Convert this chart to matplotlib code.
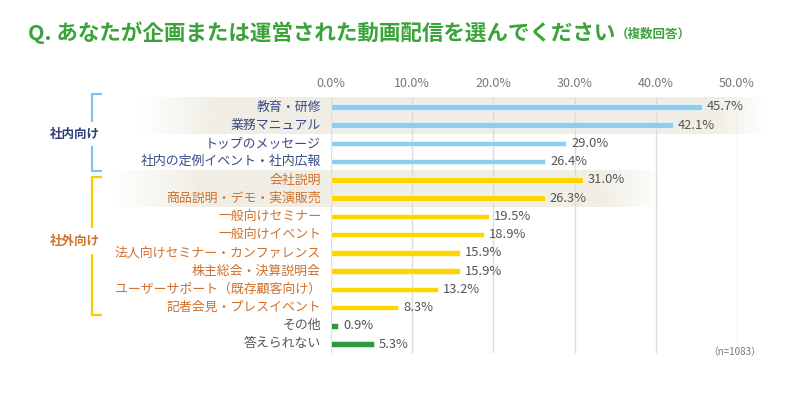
import numpy as np
import matplotlib.pyplot as plt
from matplotlib.colors import to_rgb

plt.rcParams['font.family'] = ['Noto Sans CJK JP', 'DejaVu Sans']

# data
labels = ['教育・研修', '業務マニュアル', 'トップのメッセージ', '社内の定例イベント・社内広報',
          '会社説明', '商品説明・デモ・実演販売', '一般向けセミナー', '一般向けイベント',
          '法人向けセミナー・カンファレンス', '株主総会・決算説明会', 'ユーザーサポート（既存顧客向け）',
          '記者会見・プレスイベント', 'その他', '答えられない']
values = [45.7, 42.1, 29.0, 26.4, 31.0, 26.3, 19.5, 18.9, 15.9, 15.9, 13.2, 8.3, 0.9, 5.3]
groups = ['in'] * 4 + ['out'] * 8 + ['etc'] * 2
ticks = [0, 10, 20, 30, 40, 50]

bar_col = {'in': '#8ccdf0', 'out': '#ffd400', 'etc': '#2f9a3b'}
txt_col = {'in': '#3b4a86', 'out': '#d0712c', 'etc': '#555555'}

W, H = 800, 394
fig = plt.figure(figsize=(8, 3.94), dpi=100)

# axes placed so that 0%..50% spans px 331..737, rows at y 107..344
y0, y1 = 107, 344
step = (y1 - y0) / 13
top = y0 - step / 2
bot = y1 + step / 2
ax = fig.add_axes([331 / W, 1 - bot / H, (737 - 331) / W, (bot - top) / H])
ax.patch.set_alpha(0)
ax.set_xlim(0, 50)
ax.set_ylim(13.5, -0.5)
for s in ax.spines.values():
    s.set_visible(False)
ax.set_xticks([])
ax.set_yticks([])

# highlighted bands with gradient (figure-level axes)
bg = fig.add_axes([0, 0, 1, 1], zorder=-1)
bg.axis('off')
xs = np.arange(W)
base = np.array(to_rgb('#f0eee5'))
bands = [((0, 1), [140, 215, 715, 765]), ((4, 5), [110, 200, 600, 660])]
for (r0, r1), stops in bands:
    img = np.ones((1, W, 4))
    img[0, :, :3] = base
    img[0, :, 3] = np.interp(xs, stops, [0, 1, 1, 0])
    ya = y0 + (r0 - 0.5) * step
    yb = y0 + (r1 + 0.5) * step
    bg.imshow(img, extent=(0, W, yb, ya), aspect='auto', interpolation='bilinear')
bg.set_xlim(0, W)
bg.set_ylim(H, 0)

# grid
for t in ticks:
    ax.axvline(t, color='#dcdcdc', lw=1, zorder=0)
    ax.text(t, -0.95, f'{t:.1f}%', ha='center', va='bottom', fontsize=9,
            color='#777777', transform=ax.transData, clip_on=False)

ypos = np.arange(len(values))
colors = [bar_col[g] for g in groups]
ax.barh(ypos, values, height=0.3, color=colors, edgecolor='white', linewidth=0.4, zorder=2)

for i, (v, lab, g) in enumerate(zip(values, labels, groups)):
    ax.text(v + 0.6, i, f'{v:.1f}%', ha='left', va='center', fontsize=9.3,
            color='#555555', clip_on=False)
    fig.text(321 / W, 1 - (y0 + i * step) / H, lab, ha='right', va='center',
             fontsize=9.3, color=txt_col[g])

# group brackets
def bracket(ya, yb, gap_a, gap_b, col, text, tcol):
    bg.plot([102, 92, 92], [ya, ya, gap_a], color=col, lw=1.6, solid_capstyle='butt')
    bg.plot([92, 92, 102], [gap_b, yb, yb], color=col, lw=1.6, solid_capstyle='butt')
    bg.text(75, (gap_a + gap_b) / 2, text, ha='center', va='center', fontsize=9,
            color=tcol, fontweight='bold')

bracket(94, 171, 122, 146, '#7cc3ee', '社内向け', '#2d3d7a')
bracket(177, 315, 228, 254, '#ffc800', '社外向け', '#d0712c')

# title
fig.text(28 / W, 1 - 33 / H, 'Q. あなたが企画または運営された動画配信を選んでください',
         ha='left', va='center', fontsize=15.5, color='#3aa33a', fontweight='bold')
fig.text(616 / W, 1 - 34 / H, '（複数回答）', ha='left', va='center', fontsize=9,
         color='#3aa33a', fontweight='bold')

fig.text(735 / W, 1 - 352 / H, '（n=1083）', ha='center', va='center', fontsize=7,
         color='#777777')

fig.savefig('out.png', dpi=100)
